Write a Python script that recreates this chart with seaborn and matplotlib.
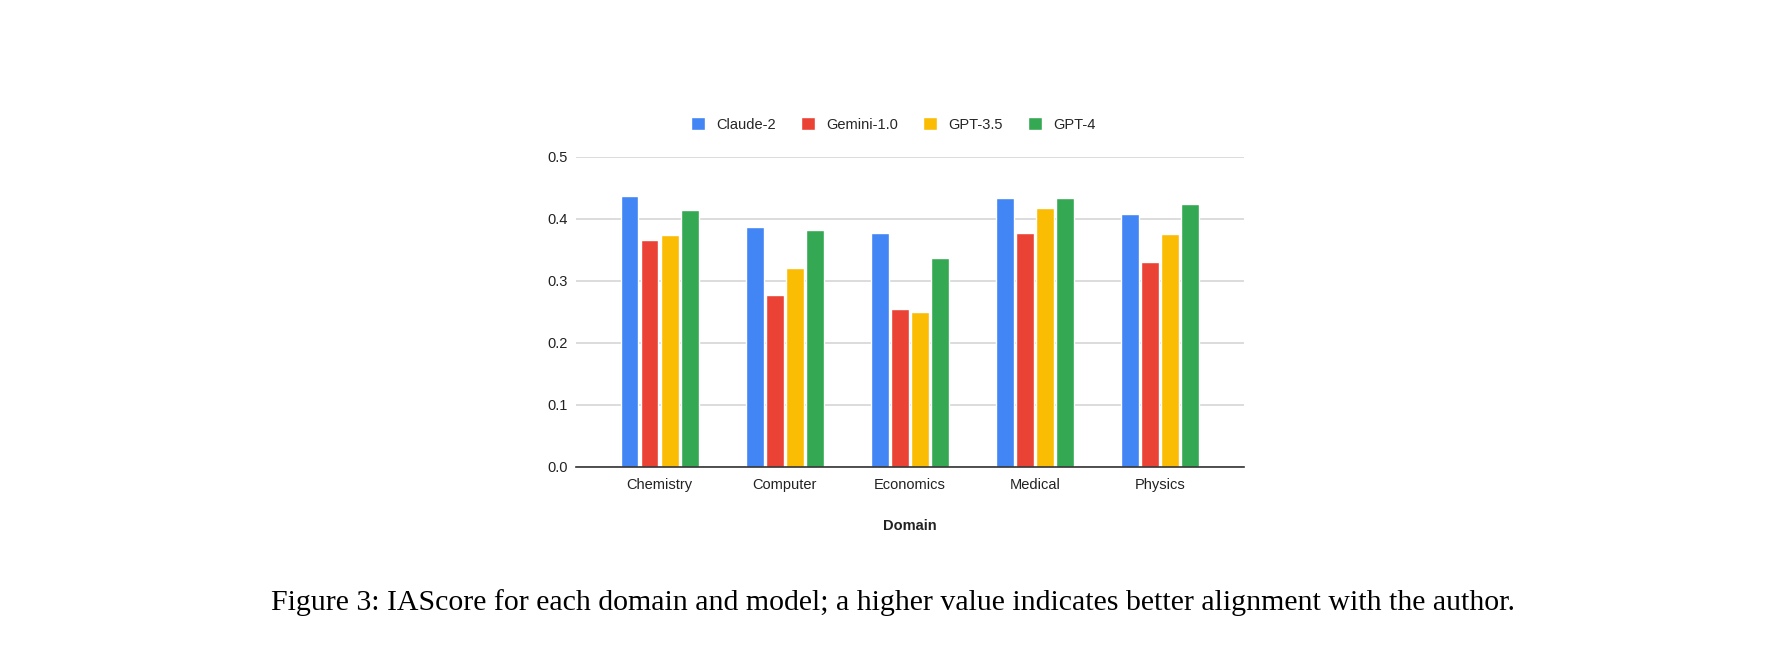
import matplotlib
matplotlib.use("Agg")
import matplotlib.pyplot as plt
import seaborn as sns
import pandas as pd

domains = ["Chemistry", "Computer", "Economics", "Medical", "Physics"]
models = ["Claude-2", "Gemini-1.0", "GPT-3.5", "GPT-4"]
claude2 = [0.437, 0.386, 0.377, 0.434, 0.408]
gemini10 = [0.366, 0.277, 0.255, 0.377, 0.330]
gpt35 = [0.374, 0.320, 0.249, 0.418, 0.376]
gpt4 = [0.414, 0.382, 0.336, 0.434, 0.424]
yticks = [0.0, 0.1, 0.2, 0.3, 0.4, 0.5]
caption = "Figure 3: IAScore for each domain and model; a higher value indicates better alignment with the author."

colors = ["#4285F4", "#EA4335", "#FBBC04", "#34A853"]

rows = []
for m, vals in zip(models, [claude2, gemini10, gpt35, gpt4]):
    for d, v in zip(domains, vals):
        rows.append({"Domain": d, "Model": m, "Score": v})
df = pd.DataFrame(rows)

sns.set_theme(style="white")
plt.rcParams["font.family"] = ["Liberation Sans", "DejaVu Sans"]

fig = plt.figure(figsize=(17.86, 6.63), dpi=100)
ax = fig.add_axes([0.3225, 0.2961, 0.374, 0.4676])

sns.barplot(data=df, x="Domain", y="Score", hue="Model", order=domains,
            hue_order=models, palette=colors, width=0.64, gap=0.13,
            saturation=1, ax=ax, legend=True)

ax.set_ylim(0, 0.5)
ax.set_xlim(-0.67, 4.67)
ax.set_yticks(yticks)
ax.set_yticklabels([f"{t:.1f}" for t in yticks])
ax.yaxis.grid(True, color="#d6d6d6", linewidth=1.2)
ax.set_axisbelow(True)
for s in ["left", "right", "top"]:
    ax.spines[s].set_visible(False)
ax.spines["bottom"].set_color("#333333")
ax.spines["bottom"].set_linewidth(1.2)
ax.tick_params(axis="both", length=0, labelsize=10.5, colors="#222222")
ax.tick_params(axis="y", pad=6)
ax.tick_params(axis="x", pad=8.5)
ax.set_ylabel("")
ax.set_xlabel("Domain", fontsize=10.5, fontweight="bold", labelpad=19, color="#222222")

handles, labels = ax.get_legend_handles_labels()
ax.get_legend().remove()
fig.legend(handles, labels, loc="center", bbox_to_anchor=(0.5, 0.812), ncol=4,
           frameon=False, fontsize=10.5, handlelength=1.0, handleheight=1.0,
           handletextpad=0.75, columnspacing=1.7)

fig.text(0.5, 1 - 603 / 663, caption, ha="center", va="center",
         fontsize=21.5, color="black", family=["Liberation Serif", "DejaVu Serif"])

fig.savefig("out.png", dpi=100)
